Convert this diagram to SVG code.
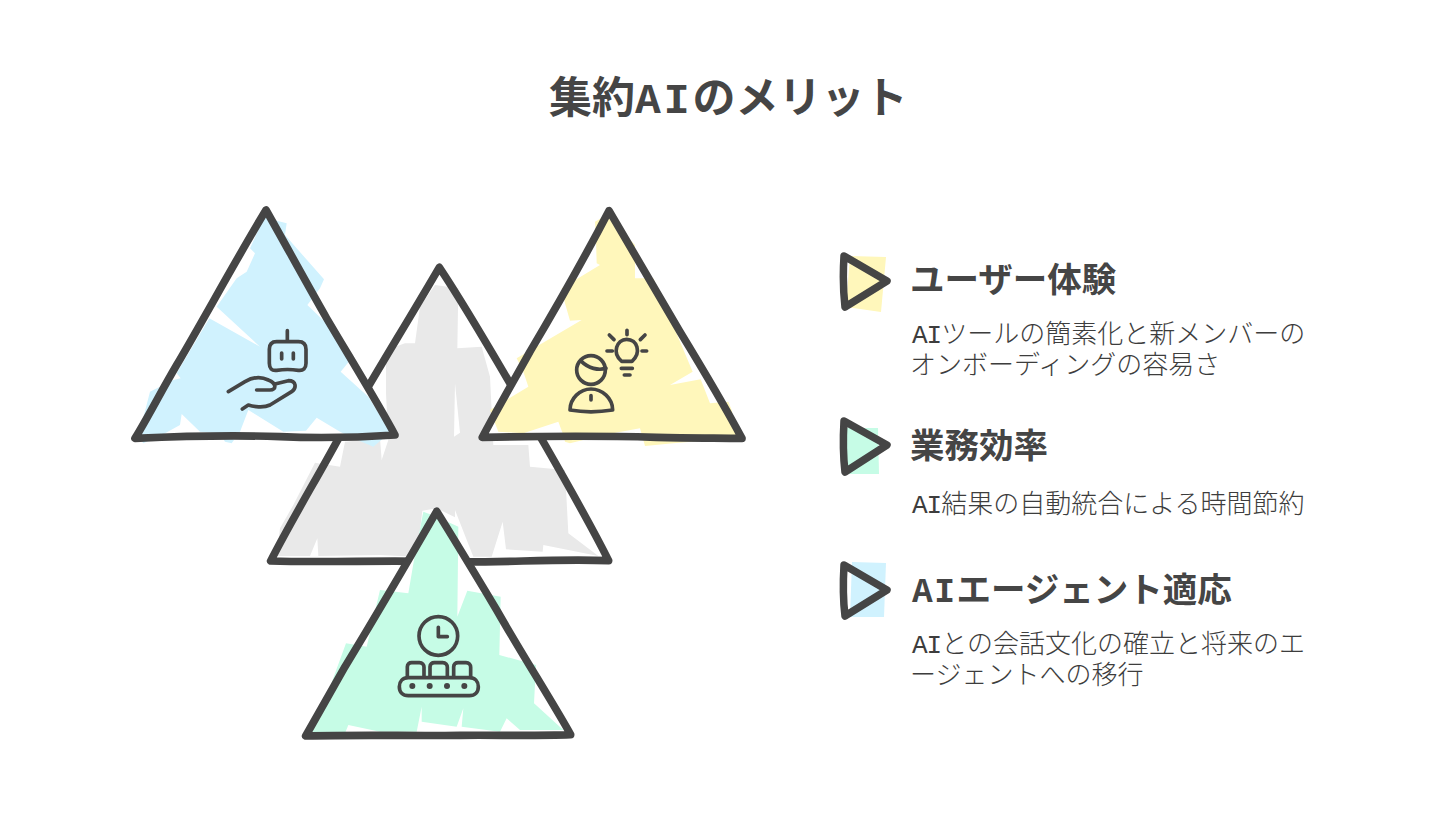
<svg xmlns="http://www.w3.org/2000/svg" width="1456" height="822" viewBox="0 0 1456 822">
<style>
.tri{fill:none;stroke:#454545;stroke-width:23;stroke-linejoin:round;stroke-linecap:round}
.ico{fill:none;stroke:#454545;stroke-width:11;stroke-linejoin:round;stroke-linecap:round}
.mini{fill:none;stroke:#454545;stroke-width:7.5;stroke-linejoin:round;stroke-linecap:round}
.back{fill:#fff}
text{fill:#454545;font-family:"Liberation Mono","Noto Sans CJK JP",monospace}
.title{font-size:43px;font-weight:700}
.head{font-size:34.5px;font-weight:700}
.body{font-size:26px;font-weight:300;fill:#3d3d3d}
.lt{letter-spacing:3px}
.lh{letter-spacing:1.5px}
.lb{letter-spacing:-1px}
</style>
<rect width="1456" height="822" fill="#fff"/>
<text class="title" x="549" y="113">集約<tspan class="lt">AI</tspan>のメリット</text>

<g id="node-gray" transform="translate(260 260) scale(.33333)">
<polygon fill="#e9e9e9" points="525,75 595,85 592,265 665,260 690,350 700,555 805,555 810,620 915,630 925,820 1015,888 850,855 848,875 738,868 728,785 695,890 640,890 585,750 585,772 530,745 487,752 470,890 360,885 175,888 172,835 150,888 50,888 60,805 100,735 165,608 240,620 255,545 360,535 365,600 385,540 378,400 378,270 435,250 465,250 480,140"/>
<polygon fill="#fff" points="585,370 600,518 582,530"/>
<path class="tri" d="M538,22 C440,190 340,350 252,505 C180,640 100,770 32,903 C200,908 380,900 540,905 C720,910 880,895 1046,902 C960,730 850,550 750,370 C680,250 610,130 538,22 Z"/>
</g>

<g id="node-blue" transform="translate(120 190) scale(.33333)">
<polygon class="back" points="438,58 42,745 828,735"/>
<polygon fill="#d0f2fe" points="438,70 470,92 500,100 495,135 612,268 600,295 562,345 640,420 695,505 662,545 745,620 810,725 790,745 760,770 700,745 660,725 590,683 558,722 490,725 385,660 360,725 335,760 315,755 300,730 240,725 185,672 180,705 130,733 70,760 55,740 90,605 160,570 182,565 170,550 268,385 420,470 290,350 350,265 380,245 405,190 390,175"/>
<path class="tri" d="M438,60 C350,205 250,390 170,525 C120,610 85,680 45,745 C200,738 340,735 480,740 C600,745 720,742 825,735 C780,650 700,520 620,385 C560,280 500,170 438,60 Z"/>
<g class="ico">
<path d="M502,422V452"/>
<path d="M470,455H535C550,455 558,463 558,478V520C558,535 550,543 535,541C515,538 490,538 470,541C455,543 448,535 448,520V478C448,463 455,455 470,455Z"/>
<path d="M485,489V507M520,489V507"/>
<path d="M325,605L375,575C400,560 425,560 445,570C470,580 470,600 450,600H410"/>
<path d="M465,582L505,572C530,572 530,595 515,605L450,645C430,655 400,650 385,645L367,657"/>
</g>
</g>

<g id="node-yellow" transform="translate(470 200) scale(.33333)">
<polygon class="back" points="417,30 35,712 818,715"/>
<polygon fill="#fff7bb" points="375,65 410,45 495,135 495,235 550,235 668,515 600,555 692,538 720,610 775,605 785,630 800,705 700,722 610,730 525,738 510,685 400,705 300,730 285,725 278,700 265,665 160,700 85,695 60,630 175,560 160,515 140,475 335,360 300,362 285,310 275,265 390,195 380,190 378,120"/>
<path class="tri" d="M417,32 C340,180 260,320 180,455 C130,545 80,630 37,712 C220,708 420,708 560,712 C650,714 740,714 816,715 C760,610 700,510 630,395 C550,260 480,140 417,32 Z"/>
<g class="ico">
<circle cx="363" cy="510" r="43"/>
<path d="M335,485C355,505 385,512 408,505"/>
<path d="M300,630C300,595 330,567 363,567C397,567 428,595 428,630C385,637 340,637 300,630Z"/>
<path d="M363,587V600"/>
<path d="M455,484C425,460 440,418 470,418C502,418 515,458 486,484Z"/>
<path d="M454,505H487M463,525H480"/>
<path d="M471,391V404M418,405L432,419M525,405L511,419M411,453H427M516,453H530"/>
</g>
</g>

<g id="node-green" transform="translate(260 500) scale(.33333)">
<polygon class="back" points="530,32 135,708 935,705"/>
<polygon fill="#c6fce6" points="490,35 530,50 595,80 592,350 622,272 722,290 718,465 828,495 822,610 910,690 780,690 740,655 720,695 605,680 610,625 590,680 485,665 485,620 470,695 360,695 265,675 255,700 150,710 205,575 258,430 320,440 360,270 445,280 462,180"/>
<path class="tri" d="M530,34 C440,190 340,360 255,500 C210,580 170,650 137,708 C300,704 460,708 600,706 C720,705 830,708 932,704 C880,610 790,470 710,330 C650,230 590,130 530,34 Z"/>
<g class="ico">
<circle cx="535" cy="408" r="58"/>
<path d="M535,382V410H562"/>
<path d="M442,530V500C442,492 448,488 455,488H478C487,488 492,494 492,502V530"/>
<path d="M510,530V500C510,492 516,488 523,488H548C557,488 562,494 562,502V530"/>
<path d="M581,530V500C581,492 587,488 594,488H618C627,488 632,494 632,502V530"/>
<path d="M445,533H628C645,533 655,545 655,560C655,577 645,587 628,587H445C428,587 418,577 418,560C418,545 428,533 445,533Z"/>
</g>
<g fill="#454545"><circle cx="457" cy="558" r="9"/><circle cx="509" cy="558" r="9"/><circle cx="561" cy="558" r="9"/><circle cx="613" cy="558" r="9"/></g>
</g>

<g id="item-1">
<polygon fill="#fff7bb" points="850,256 886,257 881,312 846,307"/>
<path class="mini" d="M844,256L887,281L845,307C843,290 843,272 844,256Z"/>
<text class="head" x="910" y="292">ユーザー体験</text>
<text class="body" x="912" y="343"><tspan class="lb">AI</tspan>ツールの簡素化と新メンバーの</text>
<text class="body" x="910" y="374">オンボーディングの容易さ</text>
</g>
<g id="item-2">
<polygon fill="#c6fce6" points="847,428 878,428 879,474 847,474"/>
<path class="mini" d="M844,421L887,445L845,472C843,455 843,438 844,421Z"/>
<text class="head" x="910" y="458">業務効率</text>
<text class="body" x="912" y="513"><tspan class="lb">AI</tspan>結果の自動統合による時間節約</text>
</g>
<g id="item-3">
<polygon fill="#d0f2fe" points="852,562 886,563 884,617 850,617"/>
<path class="mini" d="M844,565L887,590L845,616C843,600 843,582 844,565Z"/>
<text class="head" x="912" y="602"><tspan class="lh">AI</tspan>エージェント適応</text>
<text class="body" x="912" y="653"><tspan class="lb">AI</tspan>との会話文化の確立と将来のエ</text>
<text class="body" x="910" y="684">ージェントへの移行</text>
</g>
</svg>
